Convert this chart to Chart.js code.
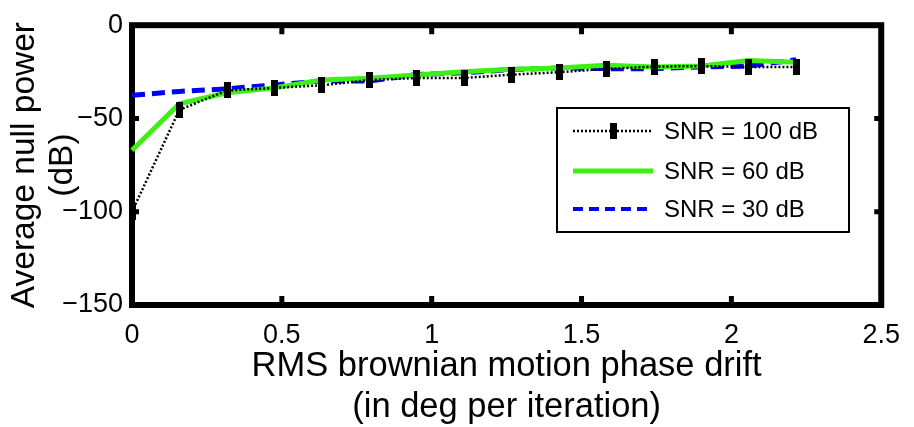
<!DOCTYPE html>
<html><head><meta charset="utf-8">
<script src="https://cdn.jsdelivr.net/npm/chart.js@4/dist/chart.umd.min.js"></script>
<style>html,body{margin:0;padding:0;background:#fff;} canvas{display:block;}</style>
</head><body>
<canvas id="c" width="914" height="427"></canvas>
<script>
// ---- data ----
const drift  = [0, 0.158, 0.317, 0.475, 0.633, 0.792, 0.950, 1.108, 1.267, 1.425, 1.583, 1.742, 1.900, 2.058, 2.216];
const snr100 = [-100, -45.4, -35, -33.6, -32.2, -29.4, -28.3, -28.3, -26.5, -25.2, -23.4, -22.2, -21.9, -22.4, -22.4];
const snr60  = [-67, -42.1, -36.2, -33.6, -29.4, -28.5, -26.7, -25, -23.6, -22.9, -21.5, -22.4, -21.9, -18.9, -19.8];
const snr30  = [-37.6, -35.5, -34.1, -32, -29.9, -29.9, -26.4, -25.5, -23.8, -22.9, -23.3, -23.3, -22.4, -21.9, -18.5];
const seriesLabels = ['SNR = 100 dB', 'SNR = 60 dB', 'SNR = 30 dB'];
const xTicks = [0, 0.5, 1, 1.5, 2, 2.5];
const yTicks = [-150, -100, -50, 0];
const xTitle = ['RMS brownian motion phase drift', '(in deg per iteration)'];
const yTitle = ['Average null power', '(dB)'];

const FONT = "'Liberation Sans', Arial, sans-serif";

// vertical bar marker
const mk = document.createElement('canvas');
mk.width = 7; mk.height = 16;
const mctx = mk.getContext('2d');
mctx.fillStyle = '#000'; mctx.fillRect(0, 0, 7, 16);

const pts = ys => drift.map((x, i) => ({x, y: ys[i]}));

const framePlugin = {
  id: 'frame',
  beforeDatasetsDraw(chart) {
    const {ctx, chartArea: a, scales} = chart;
    ctx.save();
    ctx.strokeStyle = '#000';
    ctx.lineWidth = 6;
    ctx.strokeRect(a.left, a.top, a.right - a.left, a.bottom - a.top);
    ctx.lineWidth = 5;
    ctx.beginPath();
    scales.x.ticks.forEach(t => {
      if (t.value <= 0 || t.value >= 2.5) return;
      const px = scales.x.getPixelForValue(t.value);
      ctx.moveTo(px, a.bottom); ctx.lineTo(px, a.bottom - 9);
      ctx.moveTo(px, a.top); ctx.lineTo(px, a.top + 9);
    });
    scales.y.ticks.forEach(t => {
      if (t.value <= -150 || t.value >= 0) return;
      const py = scales.y.getPixelForValue(t.value);
      ctx.moveTo(a.left, py); ctx.lineTo(a.left + 7, py);
      ctx.moveTo(a.right, py); ctx.lineTo(a.right - 7, py);
    });
    ctx.stroke();
    ctx.restore();
  }
};

const legendPlugin = {
  id: 'boxLegend',
  afterDatasetsDraw(chart) {
    const ctx = chart.ctx;
    const bx = 557, by = 108, bw = 292, bh = 124;
    ctx.save();
    ctx.fillStyle = '#fff';
    ctx.fillRect(bx, by, bw, bh);
    ctx.strokeStyle = '#000';
    ctx.lineWidth = 2;
    ctx.strokeRect(bx, by, bw, bh);
    const rows = [131, 171, 209];
    chart.data.datasets.forEach((ds, i) => {
      const y = rows[i];
      ctx.save();
      ctx.strokeStyle = ds.borderColor;
      ctx.lineWidth = ds.legendWidth;
      ctx.setLineDash(ds.legendDash);
      ctx.beginPath(); ctx.moveTo(573, y); ctx.lineTo(653, y); ctx.stroke();
      ctx.restore();
      if (ds.pointRadius > 0) ctx.drawImage(mk, 613 - 3.5, y - 8);
      ctx.fillStyle = '#000';
      ctx.font = '24px ' + FONT;
      ctx.textBaseline = 'middle';
      ctx.textAlign = 'left';
      ctx.fillText(ds.label, 664, y + 1);
    });
    ctx.restore();
  }
};

new Chart(document.getElementById('c'), {
  type: 'line',
  data: {
    datasets: [
      {label: seriesLabels[0], data: pts(snr100), borderColor: '#000', borderWidth: 2.5,
       borderDash: [2, 2], pointStyle: mk, pointRadius: 4, legendWidth: 2.5, legendDash: [2, 2], clip: 8},
      {label: seriesLabels[1], data: pts(snr60), borderColor: '#3cf014', borderWidth: 5,
       pointRadius: 0, legendWidth: 5, legendDash: [], clip: 8},
      {label: seriesLabels[2], data: pts(snr30), borderColor: '#0000ff', borderWidth: 5,
       borderDash: [13, 7], pointRadius: 0, legendWidth: 4, legendDash: [10, 6], clip: 8}
    ]
  },
  options: {
    responsive: false,
    animation: false,
    layout: {padding: {left: 0, right: 25, top: 19, bottom: 0}},
    plugins: {legend: {display: false}, tooltip: {enabled: false}},
    elements: {line: {tension: 0}},
    scales: {
      x: {
        type: 'linear', min: 0, max: 2.5,
        afterBuildTicks: s => { s.ticks = xTicks.map(v => ({value: v})); },
        afterFit: s => { s.height = 122; },
        grid: {display: false, drawTicks: false},
        border: {display: false},
        ticks: {color: '#000', padding: 14, maxRotation: 0, font: {family: FONT, size: 27},
                callback: v => String(v)},
        title: {display: true, text: xTitle, color: '#000', padding: {top: 0, bottom: 0},
                font: {family: FONT, size: 34.5, lineHeight: 1.16}}
      },
      y: {
        type: 'linear', min: -150, max: 0,
        afterBuildTicks: s => { s.ticks = yTicks.map(v => ({value: v})); },
        afterFit: s => { s.width = 132; },
        grid: {display: false, drawTicks: false},
        border: {display: false},
        ticks: {color: '#000', padding: 9, font: {family: FONT, size: 27},
                callback: v => String(v).replace('-', '\u2212')},
        title: {display: true, text: yTitle, color: '#000', padding: {top: 6, bottom: 0},
                font: {family: FONT, size: 33.5, lineHeight: 1.13}}
      }
    }
  },
  plugins: [framePlugin, legendPlugin]
});
</script>
</body></html>
